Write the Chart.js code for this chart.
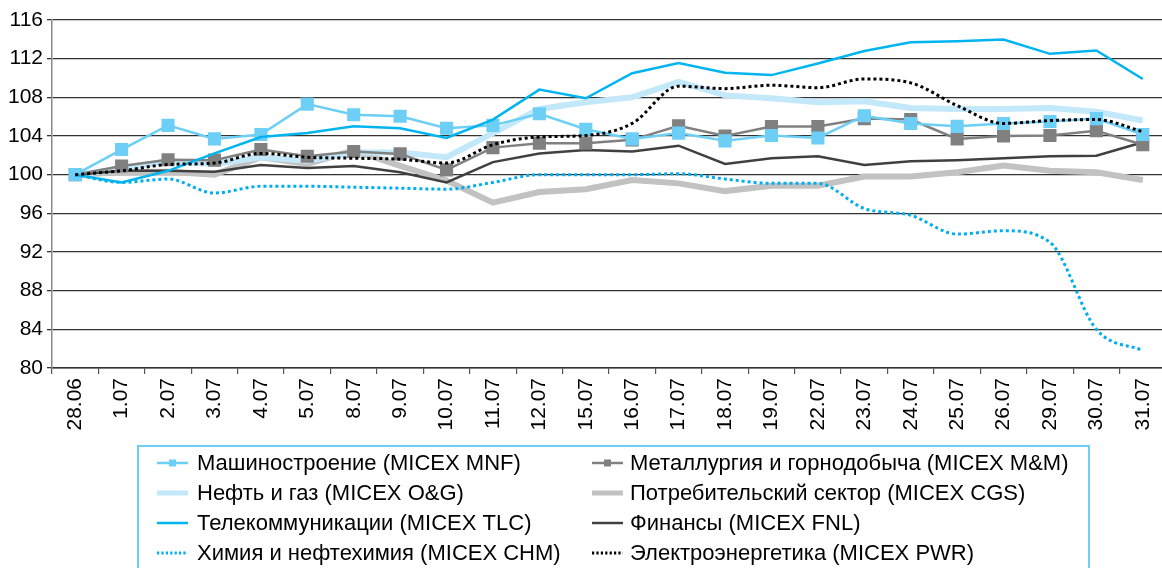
<!DOCTYPE html>
<html>
<head>
<meta charset="utf-8">
<script src="https://cdn.jsdelivr.net/npm/chart.js@4"></script>
<style>
  html, body { margin: 0; padding: 0; background: #fff; overflow: hidden; }
  #wrap { width: 1162px; height: 568px; overflow: hidden; }
</style>
</head>
<body>
<div id="wrap"><canvas id="sectors" width="1176" height="568"></canvas></div>
<script>
var labels = ['28.06','1.07','2.07','3.07','4.07','5.07','8.07','9.07','10.07','11.07','12.07','15.07',
              '16.07','17.07','18.07','19.07','22.07','23.07','24.07','25.07','26.07','29.07','30.07','31.07'];

var mnf = [100, 102.6, 105.1, 103.7, 104.15, 107.3, 106.2, 106.05, 104.8, 105.1, 106.3, 104.7,
           103.7, 104.3, 103.5, 104.05, 103.8, 106.1, 105.3, 105.0, 105.3, 105.5, 105.8, 104.15];
var mm  = [100, 100.9, 101.55, 101.5, 102.6, 101.9, 102.4, 102.15, 100.5, 102.8, 103.25, 103.25,
           103.6, 105.05, 104.0, 104.98, 104.98, 105.8, 105.7, 103.7, 104.0, 104.05, 104.55, 103.1];
var og  = [100, 100.6, 101.4, 101.1, 101.8, 101.45, 102.3, 102.3, 101.8, 104.3, 106.8, 107.5,
           108.0, 109.6, 108.2, 107.9, 107.5, 107.6, 106.9, 106.8, 106.8, 106.9, 106.5, 105.6];
var cgs = [100, 100.25, 100.3, 100.0, 101.8, 101.1, 102.5, 100.9, 99.4, 97.1, 98.2, 98.5,
           99.45, 99.1, 98.3, 98.85, 98.85, 99.8, 99.8, 100.25, 100.95, 100.4, 100.25, 99.45];
var tlc = [100, 99.2, 100.4, 102.2, 103.9, 104.3, 105.0, 104.8, 103.8, 105.7, 108.8, 107.9,
           110.5, 111.55, 110.55, 110.3, 111.5, 112.8, 113.7, 113.8, 113.97, 112.5, 112.85, 109.9];
var fnl = [100, 100.4, 100.4, 100.3, 101.0, 100.7, 100.9, 100.25, 99.2, 101.3, 102.2, 102.55,
           102.4, 103.0, 101.1, 101.7, 101.9, 101.0, 101.4, 101.5, 101.7, 101.9, 101.95, 103.35];
var chm = [100, 99.2, 99.55, 98.1, 98.8, 98.8, 98.7, 98.6, 98.5, 99.2, 100.0, 100.0,
           100.0, 100.1, 99.55, 99.1, 99.1, 96.5, 95.8, 93.85, 94.2, 93.0, 84.0, 81.8];
var pwr = [100, 100.4, 101.05, 101.2, 102.2, 101.8, 101.7, 101.6, 101.2, 103.1, 103.9, 104.05,
           105.3, 109.15, 108.9, 109.25, 109.0, 109.9, 109.5, 107.15, 105.3, 105.6, 105.7, 104.45];

var FONT = '"Liberation Sans", Arial, Helvetica, sans-serif';

function line(label, data, color, width, extra) {
  var ds = {
    label: label, data: data, borderColor: color, backgroundColor: color,
    borderWidth: width, pointRadius: 0, fill: false, tension: 0
  };
  for (var k in extra) ds[k] = extra[k];
  return ds;
}

// legend goes row by row: left column, right column
var datasets = [
  line('Машиностроение (MICEX MNF)', mnf, '#6dcff6', 2.5, {pointStyle: 'rect', pointRadius: 7.5, order: 4}),
  line('Металлургия и горнодобыча (MICEX M&M)', mm, '#808080', 2.5, {pointStyle: 'rect', pointRadius: 7.5, order: 5}),
  line('Нефть и газ (MICEX O&G)', og, '#c3e8fa', 6, {order: 7}),
  line('Потребительский сектор (MICEX CGS)', cgs, '#c2c2c2', 6, {order: 8}),
  line('Телекоммуникации (MICEX TLC)', tlc, '#00b4ef', 2.5, {order: 3}),
  line('Финансы (MICEX FNL)', fnl, '#404040', 2.5, {order: 6}),
  line('Химия и нефтехимия (MICEX CHM)', chm, '#00aeef', 3, {borderDash: [3, 3], cubicInterpolationMode: 'monotone', order: 2}),
  line('Электроэнергетика (MICEX PWR)', pwr, '#000000', 3, {borderDash: [3, 3], cubicInterpolationMode: 'monotone', order: 1})
];

var boxLegend = {
  id: 'boxLegend',
  afterDraw: function(chart) {
    var ctx = chart.ctx;
    ctx.save();
    ctx.strokeStyle = '#6dcff6';
    ctx.lineWidth = 2;
    ctx.strokeRect(138, 446, 951, 140);

    var cols = [{x0: 157, x1: 188, tx: 197}, {x0: 592, x1: 623, tx: 630}];
    ctx.font = '22px ' + FONT;
    ctx.textBaseline = 'middle';
    ctx.fillStyle = '#000';
    chart.data.datasets.forEach(function(ds, i) {
      var c = cols[i % 2];
      var y = 463 + Math.floor(i / 2) * 30;
      ctx.beginPath();
      ctx.strokeStyle = ds.borderColor;
      ctx.lineWidth = Math.min(ds.borderWidth, 5);
      ctx.setLineDash(ds.borderDash ? [2.2, 2.2] : []);
      ctx.moveTo(c.x0, y);
      ctx.lineTo(c.x1, y);
      ctx.stroke();
      ctx.setLineDash([]);
      if (ds.pointStyle === 'rect') {
        ctx.fillStyle = ds.borderColor;
        ctx.fillRect((c.x0 + c.x1) / 2 - 3.5, y - 3.5, 7, 7);
      }
      ctx.fillStyle = '#000';
      ctx.fillText(ds.label, c.tx, y + 1);
    });
    ctx.restore();
  }
};

new Chart(document.getElementById('sectors'), {
  type: 'line',
  data: { labels: labels, datasets: datasets },
  plugins: [boxLegend],
  options: {
    responsive: false,
    animation: false,
    layout: { padding: { top: 20, bottom: 123, left: 0, right: 0 } },
    plugins: { legend: { display: false }, tooltip: { enabled: false } },
    scales: {
      x: {
        offset: true,
        grid: { drawOnChartArea: false, offset: true, tickLength: 6, color: '#555', lineWidth: 1.2 },
        border: { color: '#333', width: 1.5 },
        ticks: { minRotation: 90, maxRotation: 90, autoSkip: false, color: '#000',
                 font: { family: FONT, size: 21 }, padding: 4 },
        afterFit: function(scale) { scale.height = 77; }
      },
      y: {
        min: 80, max: 116,
        ticks: { stepSize: 4, color: '#000', font: { family: FONT, size: 21 }, padding: 4 },
        grid: { color: '#333', lineWidth: 1.3, tickLength: 5 },
        border: { color: '#888', width: 1.5 },
        afterFit: function(scale) { scale.width = 52; }
      }
    }
  }
});
</script>
</body>
</html>
